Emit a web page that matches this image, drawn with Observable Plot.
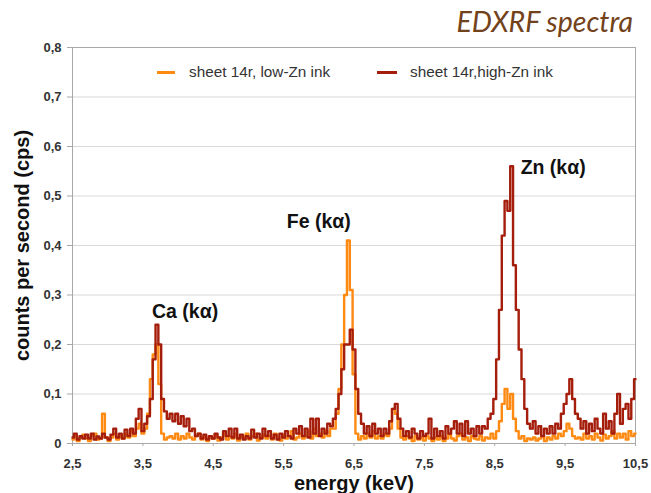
<!DOCTYPE html>
<html>
<head>
<meta charset="utf-8">
<script src="https://cdn.jsdelivr.net/npm/d3@7"></script>
<script src="https://cdn.jsdelivr.net/npm/@observablehq/plot@0.6"></script>
<style>
  html, body { margin: 0; padding: 0; background: #fff; }
  #wrap { position: relative; width: 651px; height: 493px; overflow: hidden; }
  #title { position: absolute; right: 18px; top: 4px; font-family: Lato, "Open Sans", sans-serif; font-style: italic; font-size: 28.5px; color: #72421b; }
  .leg { position: absolute; top: 63px; font-family: "Liberation Sans", Arial, sans-serif; font-size: 15.3px; color: #333; display: flex; align-items: center; }
  .leg i { display: inline-block; height: 3px; }
</style>
</head>
<body>
<div id="wrap">
  <div id="title">EDXRF spectra</div>
  <div class="leg" style="left:157px"><i style="background:#ff8a12;width:18px;margin-right:14px"></i>sheet 14r, low-Zn ink</div>
  <div class="leg" style="left:377px"><i style="background:#a51d0b;width:20px;margin-right:13px"></i>sheet 14r,high-Zn ink</div>
</div>
<script>
// Channel grid: 2.5 keV to 10.5 keV, 0.04 keV per channel (201 channels)
const startEnergy = 2.5;
const channelWidth = 0.04;

// low-Zn ink counts (cps), one value per channel
const lowZn = [
  0.008, 0.015, 0.005, 0.012, 0.018,
  0.01, 0.005, 0.015, 0.02, 0.008,
  0.01, 0.06, 0.012, 0.005, 0.012,
  0.02, 0.008, 0.015, 0.01, 0.02,
  0.012, 0.025, 0.015, 0.03, 0.04,
  0.02, 0.03, 0.06, 0.13, 0.18,
  0.2, 0.12, 0.02, 0.008, 0.012,
  0.015, 0.01, 0.02, 0.008, 0.015,
  0.01, 0.02, 0.012, 0.008, 0.015,
  0.02, 0.008, 0.012, 0.005, 0.015,
  0.01, 0.018, 0.006, 0.012, 0.02,
  0.008, 0.015, 0.01, 0.02, 0.006,
  0.014, 0.01, 0.02, 0.008, 0.015,
  0.02, 0.006, 0.012, 0.018, 0.01,
  0.015, 0.008, 0.02, 0.012, 0.006,
  0.018, 0.01, 0.015, 0.025, 0.008,
  0.012, 0.02, 0.01, 0.015, 0.025,
  0.01, 0.03, 0.015, 0.02, 0.012,
  0.025, 0.015, 0.03, 0.03, 0.06,
  0.11, 0.2, 0.3, 0.41, 0.31,
  0.14, 0.02, 0.008, 0.015, 0.01,
  0.02, 0.012, 0.025, 0.01, 0.015,
  0.01, 0.02, 0.015, 0.03, 0.07,
  0.06, 0.03, 0.012, 0.008, 0.015,
  0.01, 0.005, 0.015, 0.008, 0.012,
  0.006, 0.015, 0.01, 0.005, 0.012,
  0.008, 0.015, 0.005, 0.01, 0.018,
  0.01, 0.006, 0.015, 0.02, 0.008,
  0.012, 0.005, 0.015, 0.01, 0.008,
  0.015, 0.006, 0.012, 0.01, 0.02,
  0.01, 0.025, 0.045, 0.08, 0.11,
  0.07, 0.1, 0.05, 0.025, 0.01,
  0.015, 0.005, 0.01, 0.008, 0.012,
  0.006, 0.01, 0.015, 0.005, 0.012,
  0.008, 0.015, 0.01, 0.02, 0.015,
  0.025, 0.04, 0.03, 0.015, 0.01,
  0.012, 0.008, 0.02, 0.01, 0.015,
  0.008, 0.02, 0.012, 0.006, 0.018,
  0.01, 0.015, 0.025, 0.01, 0.02,
  0.012, 0.02, 0.008, 0.025, 0.015,
  0.02
];

// high-Zn ink counts (cps), one value per channel
const highZn = [
  0.012, 0.02, 0.008, 0.015, 0.01,
  0.018, 0.01, 0.02, 0.008, 0.014,
  0.01, 0.02, 0.012, 0.008, 0.018,
  0.03, 0.012, 0.02, 0.01, 0.028,
  0.015, 0.03, 0.02, 0.05, 0.07,
  0.025, 0.04, 0.055, 0.09, 0.17,
  0.24, 0.2, 0.09, 0.065, 0.05,
  0.06, 0.045, 0.06, 0.04, 0.055,
  0.035, 0.05, 0.025, 0.03, 0.015,
  0.02, 0.01, 0.018, 0.008, 0.015,
  0.01, 0.02, 0.012, 0.008, 0.025,
  0.015, 0.03, 0.012, 0.03, 0.01,
  0.018, 0.008, 0.015, 0.01, 0.028,
  0.012, 0.02, 0.01, 0.03, 0.015,
  0.025, 0.01, 0.018, 0.008, 0.02,
  0.012, 0.025, 0.015, 0.01, 0.03,
  0.02, 0.035, 0.015, 0.03, 0.012,
  0.05, 0.02, 0.05, 0.015, 0.03,
  0.02, 0.04, 0.035, 0.05, 0.07,
  0.1, 0.15, 0.2, 0.2, 0.23,
  0.19, 0.11, 0.06, 0.04, 0.02,
  0.035, 0.015, 0.04, 0.02, 0.03,
  0.015, 0.03, 0.02, 0.045, 0.07,
  0.08, 0.05, 0.03, 0.015, 0.025,
  0.012, 0.03, 0.02, 0.01, 0.025,
  0.015, 0.02, 0.05, 0.01, 0.03,
  0.015, 0.025, 0.01, 0.035, 0.02,
  0.03, 0.045, 0.02, 0.04, 0.015,
  0.045, 0.02, 0.03, 0.015, 0.035,
  0.02, 0.035, 0.03, 0.05, 0.06,
  0.09, 0.17, 0.27, 0.42, 0.49,
  0.47, 0.56, 0.36, 0.27, 0.19,
  0.13, 0.07, 0.04, 0.03, 0.045,
  0.02, 0.035, 0.015, 0.03, 0.02,
  0.035, 0.02, 0.04, 0.03, 0.06,
  0.08, 0.1, 0.13, 0.09, 0.06,
  0.05, 0.03, 0.045, 0.02, 0.04,
  0.025, 0.05, 0.03, 0.02, 0.06,
  0.03, 0.045, 0.02, 0.06, 0.1,
  0.04, 0.07, 0.08, 0.05, 0.09,
  0.13
];

const seriesNames = ["sheet 14r, low-Zn ink", "sheet 14r,high-Zn ink"];
const seriesColors = ["#ff8a12", "#a51d0b"];

const xTicks = [2.5, 3.5, 4.5, 5.5, 6.5, 7.5, 8.5, 9.5, 10.5];
const yTicks = [0, 0.1, 0.2, 0.3, 0.4, 0.5, 0.6, 0.7, 0.8];

const peakLabels = ["Ca (kα)", "Fe (kα)", "Zn (kα)"];
const peakLabelEnergy = [4.1, 6.0, 9.33];
const peakLabelCps = [0.267, 0.448, 0.558];

const energy = lowZn.map((_, i) => +(startEnergy + i * channelWidth).toFixed(2));
const lowData = lowZn.map((v, i) => ({e: energy[i], v}));
const highData = highZn.map((v, i) => ({e: energy[i], v}));
const labelData = peakLabels.map((t, i) => ({t, e: peakLabelEnergy[i], v: peakLabelCps[i]}));

const comma = d => d === 0 ? "0" : d.toFixed(1).replace(".", ",");

const chart = Plot.plot({
  width: 651,
  height: 493,
  marginTop: 47,
  marginRight: 16,
  marginBottom: 50,
  marginLeft: 72,
  style: {fontFamily: "'Liberation Sans', Arial, sans-serif", fontSize: "13px", fontWeight: "bold", color: "#333", background: "transparent"},
  x: {domain: [2.5, 10.5], ticks: xTicks, tickFormat: comma, label: null},
  y: {domain: [0, 0.8], ticks: yTicks, tickFormat: comma, label: null},
  marks: [
    Plot.gridY(yTicks.slice(1), {stroke: "#d9d9d9", strokeOpacity: 1}),
    Plot.frame({stroke: "#a8a8a8"}),
    Plot.axisY({ticks: yTicks, tickFormat: comma, tickSize: 5, tickPadding: 6, stroke: "#a8a8a8", label: null}),
    Plot.axisX({ticks: xTicks, tickFormat: comma, tickSize: 3, tickPadding: 12, stroke: "#a8a8a8", label: null}),
    Plot.lineY(lowData, {x: "e", y: "v", curve: "step", stroke: seriesColors[0], strokeWidth: 2.4}),
    Plot.lineY(highData, {x: "e", y: "v", curve: "step", stroke: seriesColors[1], strokeWidth: 2.4}),
    Plot.text(labelData, {x: "e", y: "v", text: "t", fontSize: 19.5, fontWeight: "bold", fill: "#111"}),
    Plot.text(["counts per second (cps)"], {frameAnchor: "left", textAnchor: "middle", lineAnchor: "middle", dx: -50, rotate: -90, fontSize: 20, fontWeight: "bold", fill: "#111"}),
    Plot.text(["energy (keV)"], {frameAnchor: "bottom", textAnchor: "middle", lineAnchor: "middle", dy: 40, fontSize: 20, fontWeight: "bold", fill: "#111"})
  ]
});
chart.style.position = "absolute";
chart.style.left = "0px";
chart.style.top = "0px";
const wrap = document.getElementById("wrap");
wrap.insertBefore(chart, wrap.firstChild);
</script>
</body>
</html>
